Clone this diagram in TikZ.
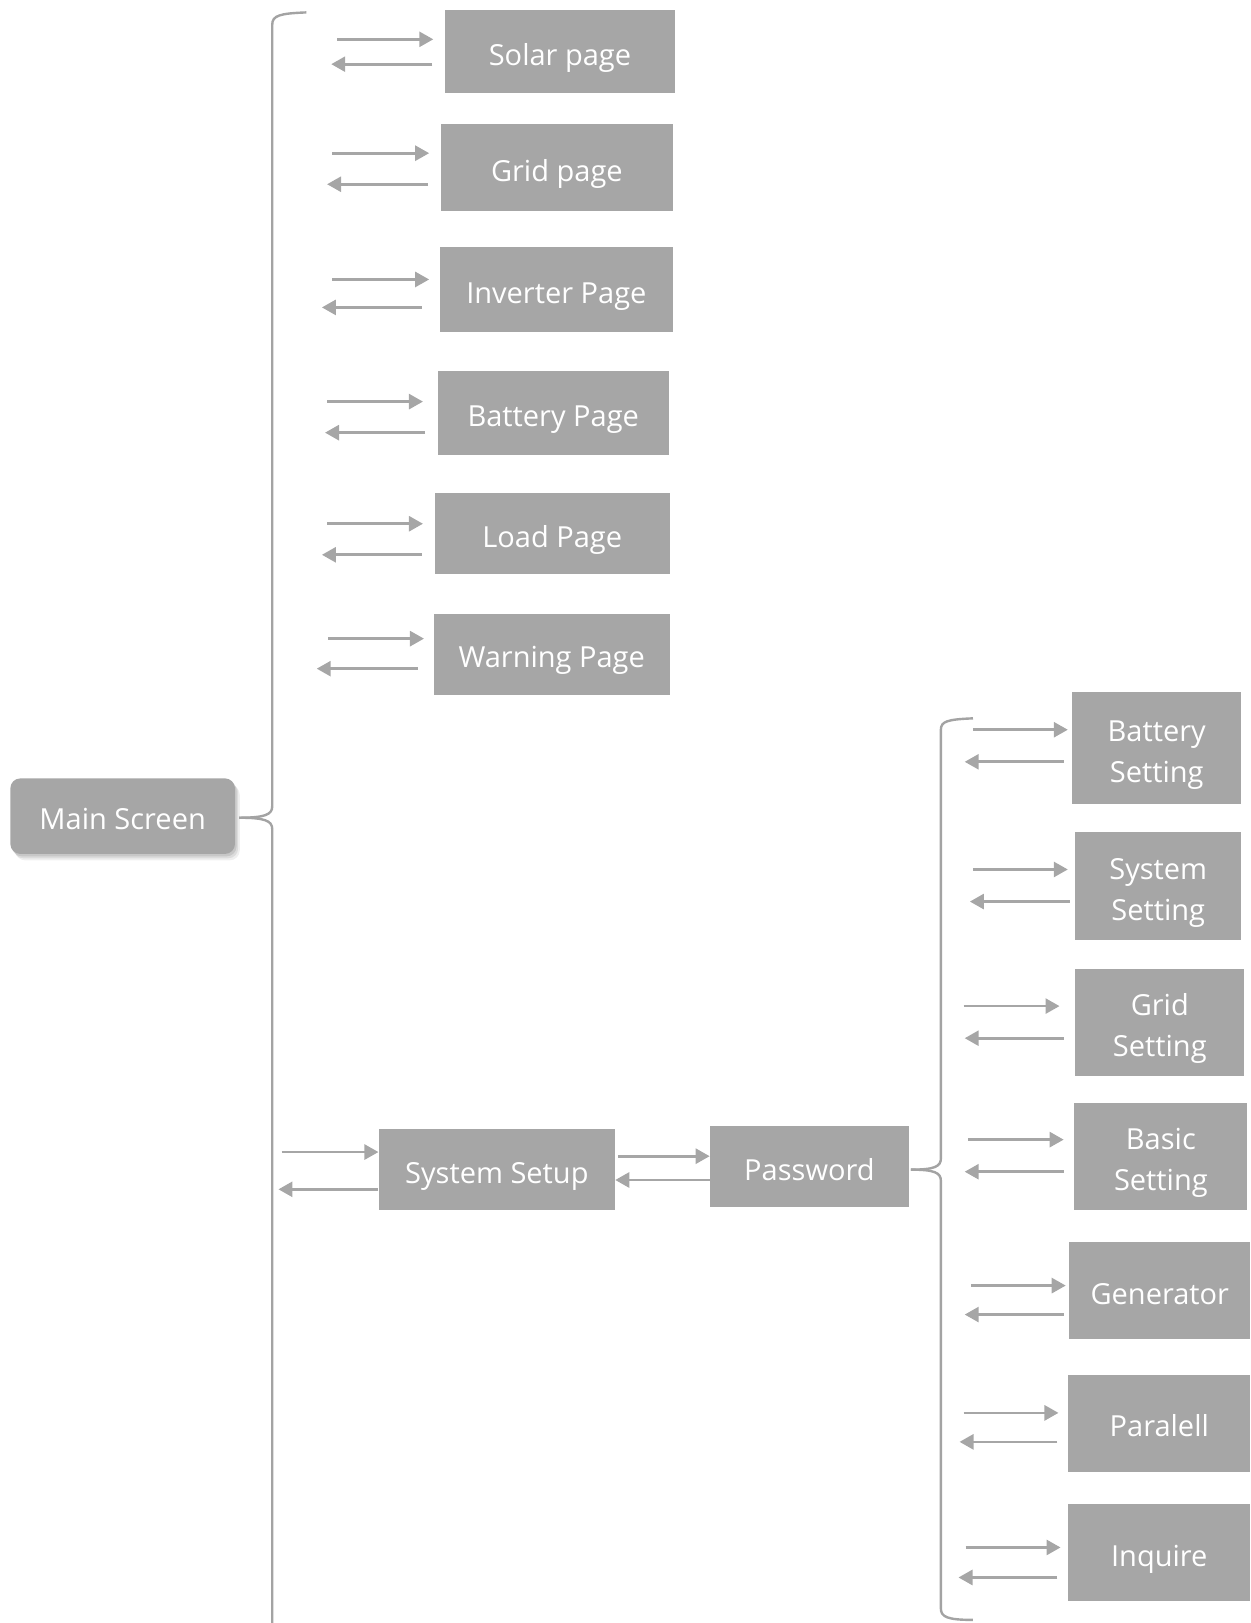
\documentclass[tikz,border=0pt]{standalone}
\usepackage{fontspec}
\setmainfont{Open Sans}
\usetikzlibrary{arrows.meta,shadows}
\definecolor{boxgray}{HTML}{A6A6A6}
\definecolor{arrgray}{HTML}{A6A6A6}
\definecolor{brgray}{HTML}{A3A3A3}
\def\u{0.5174pt}
\newcommand\mkbox[7][one]{\node[box, #1, minimum width={(#5-#3)*\u}, minimum height={(#6-#4)*\u}] (#2) at ({(#3+#5)/2},{(#4+#6)/2}) {#7};}
\tikzset{
  box/.style={fill=boxgray, draw=none, text=white, inner sep=0pt, align=center, font=\fontsize{14.5}{20.5}\selectfont},
  one/.style={text height=16pt, text depth=2.5pt},
  two/.style={text height=37pt, text depth=3pt},
  arr/.style={draw=arrgray, line width=1.35pt, -{Triangle[length=7pt,width=7.5pt]}},
  brk/.style={draw=brgray, line width=1.2pt},
}
\begin{document}
\begin{tikzpicture}[x=\u, y=-\u]
\useasboundingbox (0,0) rectangle (1208,1568);
% main screen
\node[box, one, rounded corners=5pt, minimum width={217*\u}, minimum height={73*\u},
  drop shadow={shadow xshift=0.8pt, shadow yshift=-1.2pt, opacity=0.18, fill=black!60},
  drop shadow={shadow xshift=1.6pt, shadow yshift=-2.2pt, opacity=0.14, fill=black!60},
  drop shadow={shadow xshift=2.4pt, shadow yshift=-3.2pt, opacity=0.10, fill=black!60}] (ms) at (118.5,788.5) {Main Screen};
% left pages
\mkbox{solar}{430}{10}{652}{90}{Solar page}
\mkbox{grid}{426}{120}{650}{204}{Grid page}
\mkbox{inv}{425}{239}{650}{321}{Inverter Page}
\mkbox{bat}{423}{358}{646}{440}{Battery Page}
\mkbox{load}{420}{476}{647}{555}{Load Page}
\mkbox{warn}{419}{593}{647}{671}{Warning Page}
\mkbox{ss}{366}{1091}{594}{1169}{System Setup}
\mkbox{pw}{686}{1088}{878}{1166}{Password}
% right settings
\mkbox[two]{bs}{1036}{669}{1199}{777}{Battery\\Setting}
\mkbox[two]{sys}{1039}{804}{1199}{908}{System\\Setting}
\mkbox[two]{gs}{1039}{936}{1202}{1040}{Grid\\Setting}
\mkbox[two]{bas}{1038}{1066}{1205}{1169}{Basic\\Setting}
\mkbox{gen}{1033}{1200}{1208}{1294}{Generator}
\mkbox{par}{1032}{1328}{1208}{1422}{Paralell}
\mkbox{inq}{1032}{1453}{1208}{1547}{Inquire}
% braces
\coordinate (mtip) at (231,790);
\draw[brk] (296,12) .. controls (270,13) and (263,15) .. (263,24) -- (263,779)
  .. controls (263,787) and (256,790) .. (mtip);
\draw[brk] (mtip) .. controls (256,790) and (263,793) .. (263,801) -- (263,1580);
\coordinate (ptip) at (880,1130);
\draw[brk] (940,694) .. controls (915,695) and (909,697) .. (909,705) -- (909,1119)
  .. controls (909,1127) and (903,1130) .. (ptip);
\draw[brk] (ptip) .. controls (903,1130) and (909,1133) .. (909,1141) -- (909,1554)
  .. controls (909,1562) and (915,1565) .. (940,1565);
% arrows
\foreach \n/\ax/\ay/\ag/\qx/\qy/\qg in {
  solar/326/38/11/320/62/12, grid/321/148/11/316/178/12,
  inv/321/270/10/311/297/17, bat/316/388/14/314/418/12,
  load/316/506/11/311/536/12, warn/317/617/9/306/646/15,
  bs/940/705/4/932/736/8, sys/940/840/7/937/871/5,
  gs/931/972/15/932/1003/11, bas/935/1101/10/932/1132/10,
  gen/938/1242/3/932/1270/5, par/931/1365/9/927/1393/10,
  inq/933/1495/7/926/1524/10, ss/272/1113/0/269/1149/0}{
  \coordinate (r-\n) at (\ax,\ay);
  \coordinate (l-\n) at (\qx,\qy);
  \draw[arr, shorten >={\ag*\u}] (r-\n) -- (r-\n -| \n.west);
  \draw[arr, shorten <={\qg*\u}] (l-\n -| \n.west) -- (l-\n);
}
\draw[arr] ([yshift={13*\u}]ss.east) ++(1.5pt,0) -- ([yshift={13*\u}]ss.east -| pw.west);
\draw[arr] ([yshift={-13*\u}]pw.west) -- ([yshift={-13*\u}]pw.west -| ss.east);
\end{tikzpicture}
\end{document}
